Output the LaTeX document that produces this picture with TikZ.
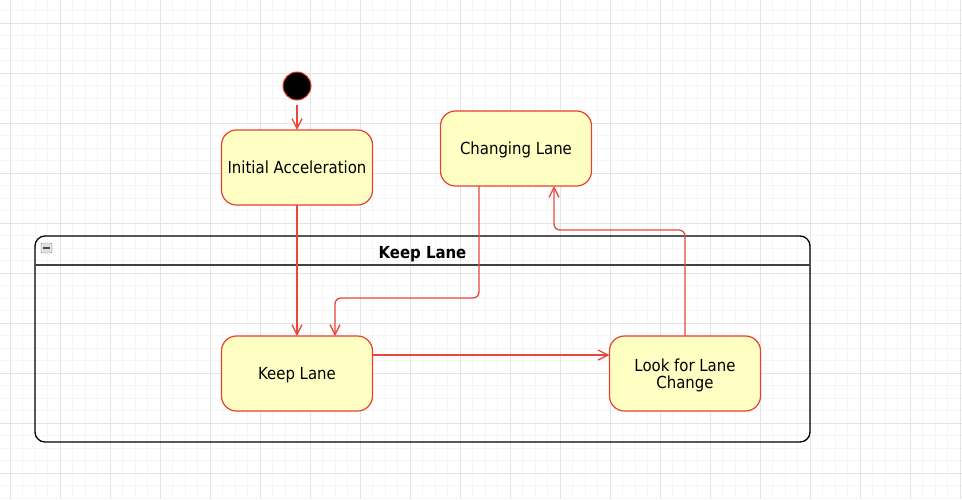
\documentclass[tikz,border=0pt]{standalone}
\usepackage{fontspec}
\setmainfont{DejaVu Sans Condensed}
\usetikzlibrary{positioning,arrows.meta}
\definecolor{statered}{RGB}{230,64,46}
\definecolor{linered}{RGB}{230,72,60}
\definecolor{statefill}{RGB}{255,255,196}
\definecolor{majorgray}{RGB}{228,228,228}
\definecolor{minorgray}{RGB}{245,245,245}
\tikzstyle{state} = [draw=statered, fill=statefill, line width=1.2pt, rounded corners=15pt, minimum width=151pt, minimum height=75pt, align=center, outer sep=0pt, text depth=0pt, font=\fontsize{16.6}{17}\selectfont]
\tikzstyle{arrow} = [draw=linered, line width=1.3pt, ->, >={Straight Barb[length=10pt,width=10pt]}, rounded corners=6pt]

\begin{document}
\begin{tikzpicture}[x=1pt, y=-1pt]
    \useasboundingbox [fill=white] (0,0) rectangle (962,499);
    \foreach \x in {-2.5,10,...,962} \draw [minorgray, line width=1pt] (\x,0) -- (\x,499);
    \foreach \y in {-2,10.5,...,499} \draw [minorgray, line width=1pt] (0,\y) -- (962,\y);
    \foreach \x in {10,60,...,960} \draw [majorgray, line width=1pt] (\x,0) -- (\x,499);
    \foreach \y in {23,73,...,499} \draw [majorgray, line width=1pt] (0,\y) -- (962,\y);

    \node (kl) [draw, line width=1.3pt, rounded corners=10pt, minimum width=775pt, minimum height=206pt, outer sep=0pt] at (422.5,339) {};
    \draw [line width=1.3pt, black!75] ([yshift=-29pt]kl.north west) -- ([yshift=-29pt]kl.north east);
    \node (kltitle) [font=\fontsize{16.6}{17}\selectfont\bfseries, text depth=0pt] at (422.5,252) {Keep Lane};
    {
      \node (klicon) [draw=black!50, fill=black!12, minimum width=11pt, minimum height=10pt, inner sep=0pt, rounded corners=1pt] at (46.5,248) {};
      \draw [line width=1.2pt, black!70] ([xshift=2.5pt]klicon.west) -- ([xshift=-2.5pt]klicon.east);
    }

    \node (init) [circle, fill=black, draw=statered, line width=1pt, minimum size=28pt, inner sep=0pt, outer sep=0pt] at (297,86) {};
    \node (accel) [state, below=30pt of init] {Initial Acceleration};
    \draw [arrow, shorten <=5pt] (init) -- (accel);

    \node (keep) [state, below=131pt of accel] {Keep Lane};
    \draw [arrow] (accel) -- (keep);

    \node (look) [state, right=237pt of keep] {Look for Lane\\Change};
    \draw [arrow] ([yshift=18.5pt]keep.east) -- ([yshift=18.5pt]look.west);

    \node (change) [state] at (516,148.5) {Changing Lane};
    \draw [arrow] ([xshift=-37pt]change.south) -- ++(0,112) -| ([xshift=38pt]keep.north);
    \draw [arrow] (look.north) -- ++(0,-106) -| ([xshift=38pt]change.south);

  \end{tikzpicture}
\end{document}
